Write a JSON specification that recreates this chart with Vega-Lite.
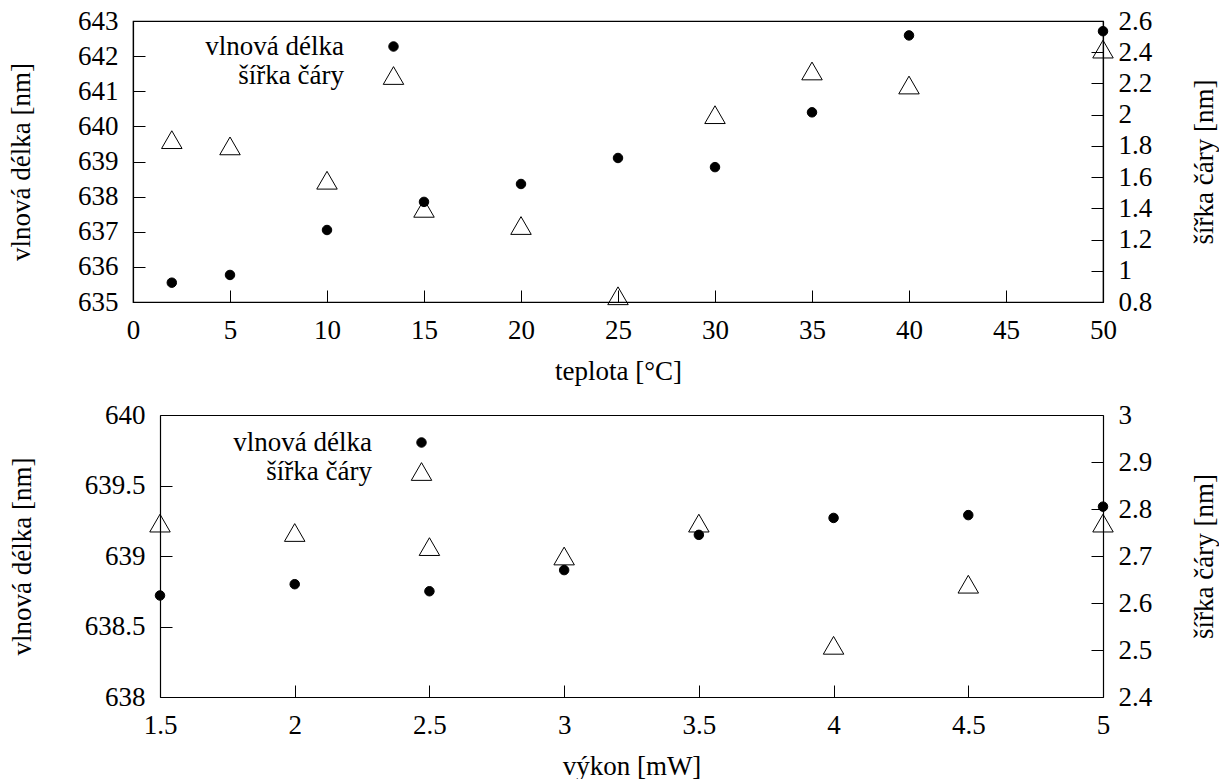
{
  "$schema": "https://vega.github.io/schema/vega-lite/v6.json",
  "background": "white",
  "padding": {"left": 6, "top": 6, "right": 0, "bottom": 0},
  "spacing": 16,
  "resolve": {
    "scale": {"shape": "independent", "fill": "independent", "stroke": "independent", "size": "independent"},
    "legend": {"shape": "independent", "fill": "independent", "stroke": "independent", "size": "independent"}
  },
  "config": {
    "font": "Liberation Serif",
    "view": {"stroke": "black", "strokeWidth": 1.2},
    "axis": {
      "labelFont": "Liberation Serif", "titleFont": "Liberation Serif",
      "labelFontSize": 27, "titleFontSize": 27, "titleFontWeight": "normal",
      "labelColor": "black", "titleColor": "black", "domainColor": "black",
      "tickColor": "black", "tickSize": -12, "tickWidth": 1, "domainWidth": 1.2,
      "grid": false, "labelPadding": 27, "labelOverlap": false, "labelFlush": false
    },
    "axisBottom": {"titlePadding": 15},
    "axisRight": {"titleBaseline": "top", "titlePadding": 40},
    "legend": {
      "labelFont": "Liberation Serif", "labelFontSize": 27, "labelColor": "black",
      "labelAlign": "right", "labelOffset": -63, "padding": 0, "rowPadding": 1,
      "symbolStrokeColor": "black", "symbolStrokeWidth": 1, "symbolOpacity": 1, "labelLimit": 0
    }
  },
  "vconcat": [
    {
      "width": 970, "height": 281,
      "data": {"values": [
        {"x": 2, "series": "vlnová délka", "value": 635.55},
        {"x": 5, "series": "vlnová délka", "value": 635.77},
        {"x": 10, "series": "vlnová délka", "value": 637.05},
        {"x": 15, "series": "vlnová délka", "value": 637.85},
        {"x": 20, "series": "vlnová délka", "value": 638.36},
        {"x": 25, "series": "vlnová délka", "value": 639.10},
        {"x": 30, "series": "vlnová délka", "value": 638.84},
        {"x": 35, "series": "vlnová délka", "value": 640.40},
        {"x": 40, "series": "vlnová délka", "value": 642.59},
        {"x": 50, "series": "vlnová délka", "value": 642.71},
        {"x": 2, "series": "šířka čáry", "value": 1.84},
        {"x": 5, "series": "šířka čáry", "value": 1.80},
        {"x": 10, "series": "šířka čáry", "value": 1.58},
        {"x": 15, "series": "šířka čáry", "value": 1.40},
        {"x": 20, "series": "šířka čáry", "value": 1.29},
        {"x": 25, "series": "šířka čáry", "value": 0.84},
        {"x": 30, "series": "šířka čáry", "value": 2.00},
        {"x": 35, "series": "šířka čáry", "value": 2.28},
        {"x": 40, "series": "šířka čáry", "value": 2.19},
        {"x": 50, "series": "šířka čáry", "value": 2.42}
      ]},
      "layer": [
        {
          "transform": [{"filter": "datum.series === 'šířka čáry'"}],
          "mark": {"type": "point", "filled": true, "stroke": "black", "strokeWidth": 1, "opacity": 1},
          "encoding": {
            "x": {"field": "x", "type": "quantitative", "scale": {"domain": [0, 50], "nice": false, "zero": false},
                  "axis": {"title": "teplota [°C]", "values": [0,5,10,15,20,25,30,35,40,45,50], "format": "~g"}},
            "y": {"field": "value", "type": "quantitative", "scale": {"domain": [0.8, 2.6], "nice": false, "zero": false},
                  "axis": {"orient": "right", "title": "šířka čáry [nm]", "titleAngle": 270, "values": [0.8,1,1.2,1.4,1.6,1.8,2,2.2,2.4,2.6], "format": "~g"}},
            "shape": {"field": "series", "type": "nominal", "scale": {"domain": ["vlnová délka", "šířka čáry"], "range": ["circle", "triangle-up"]},
                      "legend": {"title": null, "orient": "none", "legendX": 247, "legendY": 12}},
            "fill": {"field": "series", "type": "nominal", "scale": {"domain": ["vlnová délka", "šířka čáry"], "range": ["black", "transparent"]},
                     "legend": {"title": null, "orient": "none", "legendX": 247, "legendY": 12}},
            "stroke": {"field": "series", "type": "nominal", "scale": {"domain": ["vlnová délka", "šířka čáry"], "range": ["black", "black"]},
                     "legend": {"title": null, "orient": "none", "legendX": 247, "legendY": 12}},
            "size": {"field": "series", "type": "nominal", "scale": {"domain": ["vlnová délka", "šířka čáry"], "range": [90, 420]},
                     "legend": {"title": null, "orient": "none", "legendX": 247, "legendY": 12}}
          }
        },
        {
          "transform": [{"filter": "datum.series === 'vlnová délka'"}],
          "mark": {"type": "point", "filled": true, "stroke": "black", "strokeWidth": 1, "opacity": 1},
          "encoding": {
            "x": {"field": "x", "type": "quantitative", "scale": {"domain": [0, 50], "nice": false, "zero": false},
                  "axis": {"title": "teplota [°C]", "values": [0,5,10,15,20,25,30,35,40,45,50], "format": "~g"}},
            "y": {"field": "value", "type": "quantitative", "scale": {"domain": [635, 643], "nice": false, "zero": false},
                  "axis": {"orient": "left", "title": "vlnová délka [nm]", "titlePadding": 42, "values": [635,636,637,638,639,640,641,642,643], "format": "~g"}},
            "shape": {"field": "series", "type": "nominal", "scale": {"domain": ["vlnová délka", "šířka čáry"], "range": ["circle", "triangle-up"]},
                      "legend": {"title": null, "orient": "none", "legendX": 247, "legendY": 12}},
            "fill": {"field": "series", "type": "nominal", "scale": {"domain": ["vlnová délka", "šířka čáry"], "range": ["black", "transparent"]},
                     "legend": {"title": null, "orient": "none", "legendX": 247, "legendY": 12}},
            "stroke": {"field": "series", "type": "nominal", "scale": {"domain": ["vlnová délka", "šířka čáry"], "range": ["black", "black"]},
                     "legend": {"title": null, "orient": "none", "legendX": 247, "legendY": 12}},
            "size": {"field": "series", "type": "nominal", "scale": {"domain": ["vlnová délka", "šířka čáry"], "range": [90, 420]},
                     "legend": {"title": null, "orient": "none", "legendX": 247, "legendY": 12}}
          }
        }
      ],
      "resolve": {"scale": {"y": "independent"}}
    },
    {
      "width": 970, "height": 282,
      "view": {"stroke": null},
      "data": {"values": [
        {"x": 1.5, "series": "vlnová délka", "value": 638.72},
        {"x": 2, "series": "vlnová délka", "value": 638.80},
        {"x": 2.5, "series": "vlnová délka", "value": 638.75},
        {"x": 3, "series": "vlnová délka", "value": 638.90},
        {"x": 3.5, "series": "vlnová délka", "value": 639.15},
        {"x": 4, "series": "vlnová délka", "value": 639.27},
        {"x": 4.5, "series": "vlnová délka", "value": 639.29},
        {"x": 5, "series": "vlnová délka", "value": 639.35},
        {"x": 1.5, "series": "šířka čáry", "value": 2.77},
        {"x": 2, "series": "šířka čáry", "value": 2.75},
        {"x": 2.5, "series": "šířka čáry", "value": 2.72},
        {"x": 3, "series": "šířka čáry", "value": 2.70},
        {"x": 3.5, "series": "šířka čáry", "value": 2.77},
        {"x": 4, "series": "šířka čáry", "value": 2.51},
        {"x": 4.5, "series": "šířka čáry", "value": 2.64},
        {"x": 5, "series": "šířka čáry", "value": 2.77}
      ]},
      "layer": [
        {
          "transform": [{"filter": "datum.series === 'šířka čáry'"}],
          "mark": {"type": "point", "filled": true, "stroke": "black", "strokeWidth": 1, "opacity": 1},
          "encoding": {
            "x": {"field": "x", "type": "quantitative", "scale": {"domain": [1.5, 5], "range": [27, 970], "nice": false, "zero": false},
                  "axis": {"orient": "bottom", "title": "výkon [mW]", "values": [1.5,2,2.5,3,3.5,4,4.5,5], "format": "~g"}},
            "y": {"field": "value", "type": "quantitative", "scale": {"domain": [2.4, 3], "nice": false, "zero": false},
                  "axis": {"orient": "right", "title": "šířka čáry [nm]", "titleAngle": 270, "values": [2.4,2.5,2.6,2.7,2.8,2.9,3], "format": "~g"}},
            "shape": {"field": "series", "type": "nominal", "scale": {"domain": ["vlnová délka", "šířka čáry"], "range": ["circle", "triangle-up"]},
                      "legend": {"title": null, "orient": "none", "legendX": 275, "legendY": 14}},
            "fill": {"field": "series", "type": "nominal", "scale": {"domain": ["vlnová délka", "šířka čáry"], "range": ["black", "transparent"]},
                     "legend": {"title": null, "orient": "none", "legendX": 275, "legendY": 14}},
            "stroke": {"field": "series", "type": "nominal", "scale": {"domain": ["vlnová délka", "šířka čáry"], "range": ["black", "black"]},
                     "legend": {"title": null, "orient": "none", "legendX": 275, "legendY": 14}},
            "size": {"field": "series", "type": "nominal", "scale": {"domain": ["vlnová délka", "šířka čáry"], "range": [90, 420]},
                     "legend": {"title": null, "orient": "none", "legendX": 275, "legendY": 14}}
          }
        },
        {
          "transform": [{"filter": "datum.series === 'vlnová délka'"}],
          "mark": {"type": "point", "filled": true, "stroke": "black", "strokeWidth": 1, "opacity": 1},
          "encoding": {
            "x": {"field": "x", "type": "quantitative", "scale": {"domain": [1.5, 5], "range": [27, 970], "nice": false, "zero": false},
                  "axis": {"orient": "top", "title": null, "labels": false, "ticks": false, "domain": true}},
            "y": {"field": "value", "type": "quantitative", "scale": {"domain": [638, 640], "nice": false, "zero": false},
                  "axis": {"orient": "left", "offset": -27, "title": "vlnová délka [nm]", "titlePadding": 48, "values": [638,638.5,639,639.5,640], "format": "~g"}},
            "shape": {"field": "series", "type": "nominal", "scale": {"domain": ["vlnová délka", "šířka čáry"], "range": ["circle", "triangle-up"]},
                      "legend": {"title": null, "orient": "none", "legendX": 275, "legendY": 14}},
            "fill": {"field": "series", "type": "nominal", "scale": {"domain": ["vlnová délka", "šířka čáry"], "range": ["black", "transparent"]},
                     "legend": {"title": null, "orient": "none", "legendX": 275, "legendY": 14}},
            "stroke": {"field": "series", "type": "nominal", "scale": {"domain": ["vlnová délka", "šířka čáry"], "range": ["black", "black"]},
                     "legend": {"title": null, "orient": "none", "legendX": 275, "legendY": 14}},
            "size": {"field": "series", "type": "nominal", "scale": {"domain": ["vlnová délka", "šířka čáry"], "range": [90, 420]},
                     "legend": {"title": null, "orient": "none", "legendX": 275, "legendY": 14}}
          }
        }
      ],
      "resolve": {"scale": {"y": "independent"}, "axis": {"x": "independent"}}
    }
  ]
}
